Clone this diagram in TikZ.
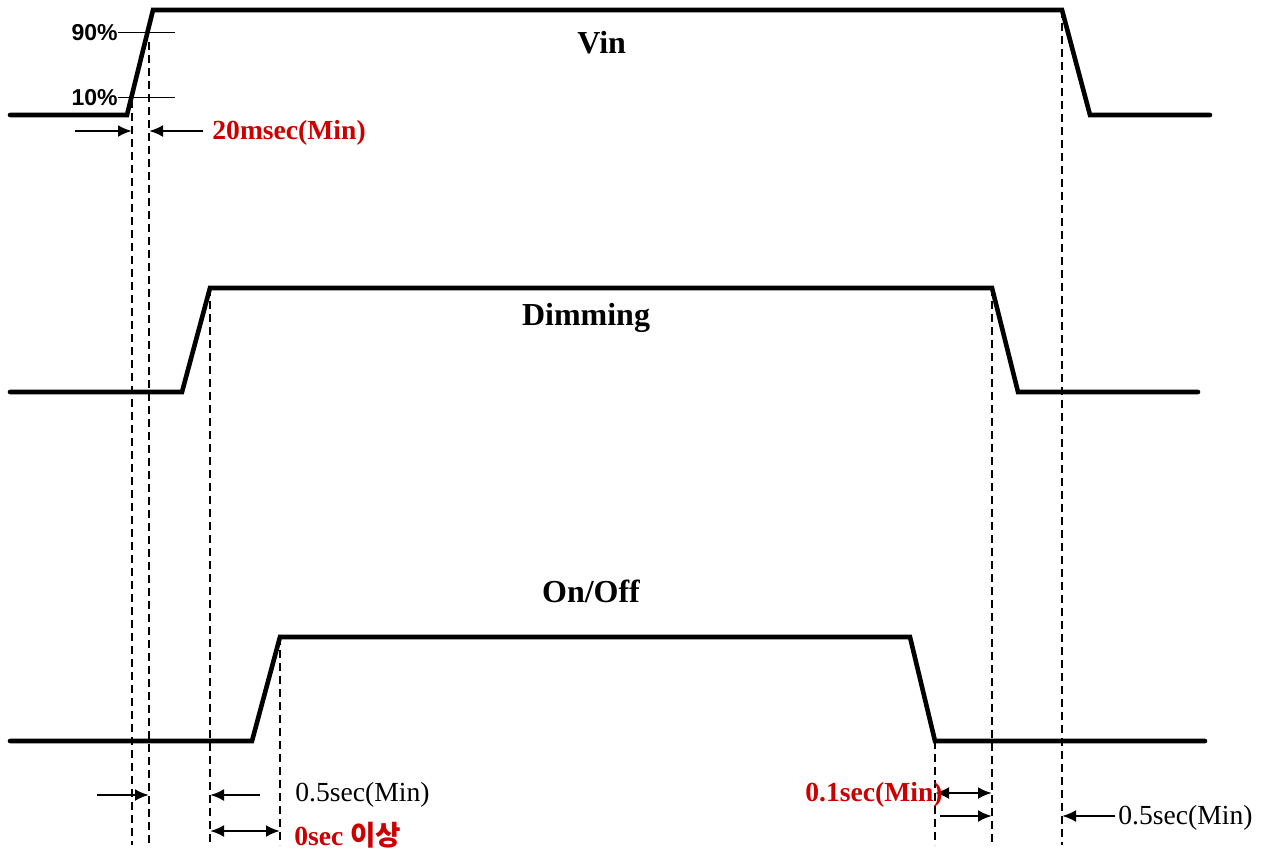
\documentclass[tikz,border=0pt]{standalone}
\usepackage{fontspec}
\setmainfont{Liberation Serif}
\newfontfamily\pctfont{Liberation Sans}
\newfontfamily\krfont{Noto Sans CJK KR}
\usepackage{tikz}
\usetikzlibrary{arrows.meta, positioning}
\definecolor{limitred}{RGB}{204,0,0}
\tikzset{
  signal/.style={line width=2.3pt, line cap=round},
  guide/.style={line width=1.2pt, dash pattern=on 4pt off 2.5pt},
  level/.style={line width=0.5pt},
  dimarrow/.style={-{Latex[length=7pt,width=6pt]}, line width=1.3pt},
  dimboth/.style={{Latex[length=7pt,width=6pt]}-{Latex[length=7pt,width=6pt]}, line width=1.3pt},
  lbl/.style={font=\fontsize{13.8}{15}\selectfont\bfseries, inner sep=1pt},
  title/.style={font=\fontsize{16}{18}\selectfont\bfseries, inner sep=1pt}
}
\begin{document}
\begin{tikzpicture}[x=0.5pt, y=-0.5pt]
\useasboundingbox (0,0) rectangle (1271,852);

% --- Waveform corners ---
\coordinate (vin0) at (10,115);  \coordinate (vinA) at (127,115);
\coordinate (vinB) at (153,10);  \coordinate (vinC) at (1062,10);
\coordinate (vinD) at (1090,115); \coordinate (vin1) at (1210,115);

\coordinate (dim0) at (10,392);  \coordinate (dimA) at (182,392);
\coordinate (dimB) at (210,288); \coordinate (dimC) at (992,288);
\coordinate (dimD) at (1018,392); \coordinate (dim1) at (1198,392);

\coordinate (on0) at (10,741);  \coordinate (onA) at (252,741);
\coordinate (onB) at (280,637); \coordinate (onC) at (910,637);
\coordinate (onD) at (935,741); \coordinate (on1) at (1205,741);

% --- Signals ---
\draw[signal] (vin0) -- (vinA) -- (vinB) -- (vinC) -- (vinD) -- (vin1);
\draw[signal] (dim0) -- (dimA) -- (dimB) -- (dimC) -- (dimD) -- (dim1);
\draw[signal] (on0) -- (onA) -- (onB) -- (onC) -- (onD) -- (on1);

\node[title, anchor=west] (vinlbl) at (575,43) {Vin};
\node[title] (dimlbl) at (586,318) {Dimming};
\node[title] (onlbl) at (591,591) {On/Off};

% --- 10% / 90% levels ---
\node[font=\pctfont\fontsize{11.5}{13}\selectfont\bfseries, anchor=east, inner sep=0pt] (p90) at (118,33) {90\%};
\node[font=\pctfont\fontsize{11.5}{13}\selectfont\bfseries, anchor=east, inner sep=0pt] (p10) at (118,98) {10\%};
\coordinate (l90) at (175,32);
\coordinate (l10) at (175,97);
\draw[level] (p90.east |- l90) -- (l90);
\draw[level] (p10.east |- l10) -- (l10);

% --- Guide lines ---
\coordinate (bot) at (0,845);
\coordinate (g10) at (132,100);
\coordinate (g90) at (149,42);
\draw[guide] (g10) -- (g10 |- bot);
\draw[guide] (g90) -- (g90 |- bot);
\draw[guide] (dimB) -- (dimB |- bot);
\draw[guide] (onB) -- (onB |- bot);
\draw[guide] (onD) -- (onD |- bot);
\draw[guide] (dimC) -- (dimC |- bot);
\draw[guide] (vinC) -- (vinC |- bot);

% --- Rise time ---
\coordinate (r1) at (75,131);
\coordinate (r2) at (203,131);
\draw[dimarrow] (r1) -- (g10 |- r1);
\draw[dimarrow] (r2) -- (g90 |- r2);
\node[lbl, text=limitred, anchor=west] (rise) at (210,133) {20msec(Min)};

% --- Turn-on timing ---
\coordinate (b1) at (97,795);
\coordinate (b2) at (260,795);
\coordinate (b3) at (210,831);
\draw[dimarrow] (b1) -- (g90 |- b1);
\draw[dimarrow] (b2) -- (dimB |- b2);
\node[lbl, font=\fontsize{13.8}{15}\selectfont, anchor=west] (ondelay) at (293,795) {0.5sec(Min)};
\draw[dimboth] (b3) -- (onB |- b3);
\node[lbl, text=limitred, anchor=west] (onlag) at (292,835) {0sec {\krfont 이상}};

% --- Turn-off timing ---
\coordinate (c1) at (935,793);
\coordinate (c2) at (940,816);
\coordinate (c3) at (1115,816);
\draw[dimboth] (c1) -- (dimC |- c1);
\draw[dimarrow] (c2) -- (dimC |- c2);
\draw[dimarrow] (c3) -- (vinC |- c3);
\node[lbl, text=limitred, anchor=east] (offlag) at (945,795) {0.1sec(Min)};
\node[lbl, font=\fontsize{13.8}{15}\selectfont, anchor=west] (offdelay) at (1116,818) {0.5sec(Min)};
\end{tikzpicture}
\end{document}
